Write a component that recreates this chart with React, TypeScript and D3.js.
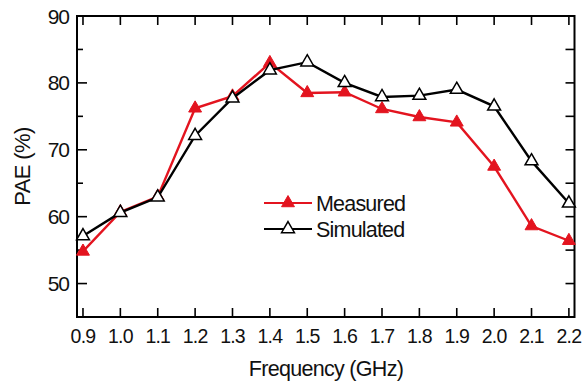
import React, { useEffect, useRef } from "react";
import * as d3 from "d3";

const frequencies = [0.9, 1.0, 1.1, 1.2, 1.3, 1.4, 1.5, 1.6, 1.7, 1.8, 1.9, 2.0, 2.1, 2.2];
const measured = [54.8, 60.7, 63.0, 76.2, 78.0, 83.0, 78.5, 78.6, 76.1, 74.9, 74.1, 67.5, 58.6, 56.4];
const simulated = [57.1, 60.6, 62.9, 72.1, 77.7, 81.9, 83.1, 80.0, 77.9, 78.1, 79.0, 76.5, 68.3, 62.0];
const yMajorTicks = [50, 60, 70, 80, 90];
const yMinorTicks = [55, 65, 75, 85];
const seriesNames = ["Measured", "Simulated"];

const W = 582;
const H = 383;
const margin = { left: 77, top: 16, right: 7.5, bottom: 66 };
const RED = "#e3141f";
const FONT = "'Liberation Sans', Arial, Helvetica, sans-serif";

export default function App() {
  const ref = useRef<SVGSVGElement | null>(null);

  useEffect(() => {
    const svg = d3.select(ref.current);
    svg.selectAll("*").remove();

    const x0 = margin.left;
    const x1 = W - margin.right;
    const y0 = margin.top;
    const y1 = H - margin.bottom;

    const x = d3.scaleLinear().domain([0.884, 2.215]).range([x0, x1]);
    const y = d3.scaleLinear().domain([45, 90]).range([y1, y0]);

    const g = svg.append("g");

    // frame
    g.append("rect")
      .attr("x", x0)
      .attr("y", y0)
      .attr("width", x1 - x0)
      .attr("height", y1 - y0)
      .attr("fill", "none")
      .attr("stroke", "#000")
      .attr("stroke-width", 2);

    // x ticks (inward, top and bottom)
    frequencies.forEach((f) => {
      const px = x(f);
      g.append("line").attr("x1", px).attr("x2", px).attr("y1", y1).attr("y2", y1 - 9)
        .attr("stroke", "#000").attr("stroke-width", 1.6);
      g.append("line").attr("x1", px).attr("x2", px).attr("y1", y0).attr("y2", y0 + 9)
        .attr("stroke", "#000").attr("stroke-width", 1.6);
      g.append("text")
        .attr("x", px)
        .attr("y", y1 + 26)
        .attr("text-anchor", "middle")
        .attr("font-family", FONT)
        .attr("font-size", 19.5)
        .attr("letter-spacing", -0.8)
        .attr("fill", "#111")
        .text(f.toFixed(1));
    });

    // y ticks (inward, left and right)
    yMajorTicks.forEach((v) => {
      const py = y(v);
      g.append("line").attr("x1", x0).attr("x2", x0 + 10).attr("y1", py).attr("y2", py)
        .attr("stroke", "#000").attr("stroke-width", 1.6);
      g.append("line").attr("x1", x1).attr("x2", x1 - 9).attr("y1", py).attr("y2", py)
        .attr("stroke", "#000").attr("stroke-width", 1.6);
      g.append("text")
        .attr("x", x0 - 8)
        .attr("y", py)
        .attr("dy", "0.36em")
        .attr("text-anchor", "end")
        .attr("font-family", FONT)
        .attr("font-size", 21)
        .attr("letter-spacing", -1)
        .attr("fill", "#111")
        .text(v);
    });
    yMinorTicks.forEach((v) => {
      const py = y(v);
      g.append("line").attr("x1", x0).attr("x2", x0 + 6).attr("y1", py).attr("y2", py)
        .attr("stroke", "#000").attr("stroke-width", 1.6);
      g.append("line").attr("x1", x1).attr("x2", x1 - 9).attr("y1", py).attr("y2", py)
        .attr("stroke", "#000").attr("stroke-width", 1.6);
    });

    // axis titles
    g.append("text")
      .attr("x", 326)
      .attr("y", 376)
      .attr("text-anchor", "middle")
      .attr("font-family", FONT)
      .attr("font-size", 21.5)
      .attr("letter-spacing", -0.7)
      .attr("fill", "#111")
      .text("Frequency (GHz)");

    g.append("text")
      .attr("transform", `translate(30,${(y0 + y1) / 2}) rotate(-90)`)
      .attr("text-anchor", "middle")
      .attr("font-family", FONT)
      .attr("font-size", 22)
      .attr("letter-spacing", -0.6)
      .attr("fill", "#111")
      .text("PAE (%)");

    const tri = d3.symbol().type(d3.symbolTriangle).size(72);

    const drawSeries = (vals: number[], color: string, filled: boolean) => {
      const pts = frequencies.map((f, i) => [x(f), y(vals[i])] as [number, number]);
      g.append("path")
        .attr("d", d3.line()(pts) as string)
        .attr("fill", "none")
        .attr("stroke", color)
        .attr("stroke-width", 2.4);
      pts.forEach(([px, py]) => {
        g.append("path")
          .attr("d", tri() as string)
          .attr("transform", `translate(${px},${py})`)
          .attr("fill", filled ? color : "#fff")
          .attr("stroke", color)
          .attr("stroke-width", filled ? 1 : 1.5);
      });
    };

    drawSeries(measured, RED, true);
    drawSeries(simulated, "#000", false);

    // legend
    const legend = [
      { name: seriesNames[0], color: RED, filled: true, yPos: 203 },
      { name: seriesNames[1], color: "#000", filled: false, yPos: 229 },
    ];
    legend.forEach((l) => {
      g.append("line").attr("x1", 264).attr("x2", 312).attr("y1", l.yPos).attr("y2", l.yPos)
        .attr("stroke", l.color).attr("stroke-width", 2.2);
      g.append("path")
        .attr("d", tri() as string)
        .attr("transform", `translate(288,${l.yPos})`)
        .attr("fill", l.filled ? l.color : "#fff")
        .attr("stroke", l.color)
        .attr("stroke-width", l.filled ? 1 : 1.5);
      g.append("text")
        .attr("x", 316)
        .attr("y", l.yPos)
        .attr("dy", "0.36em")
        .attr("font-family", FONT)
        .attr("font-size", 21.5)
        .attr("letter-spacing", -0.8)
        .attr("fill", "#111")
        .text(l.name);
    });
  }, []);

  return (
    <svg
      ref={ref}
      width={W}
      height={H}
      style={{ position: "absolute", left: 0, top: 0, background: "#fff" }}
    />
  );
}
